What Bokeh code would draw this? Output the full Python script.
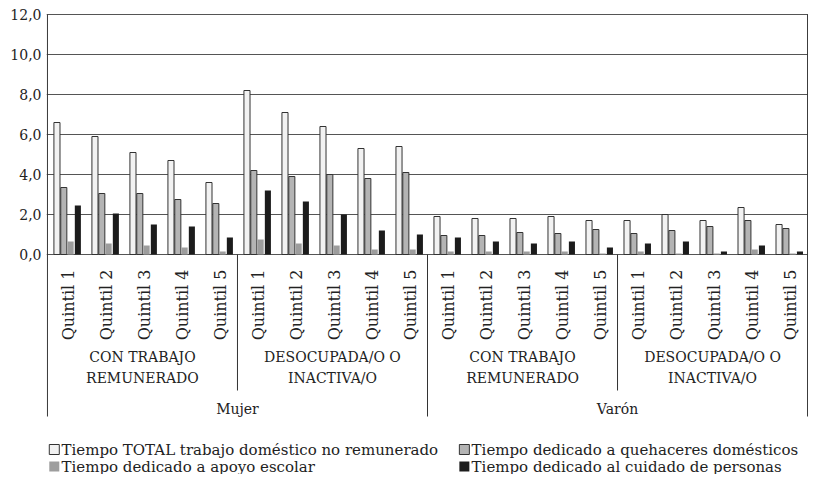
import math
from bokeh.plotting import figure
from bokeh.models import FactorRange, Range1d, FixedTicker, ColumnDataSource
from bokeh.transform import dodge
from bokeh.core.properties import value
from bokeh.embed import file_html
from bokeh.resources import INLINE

# ---------------- data ----------------
sexos = ["Mujer", "Varón"]
condiciones = ["CON TRABAJO\nREMUNERADO", "DESOCUPADA/O O\nINACTIVA/O"]
quintiles = ["Quintil 1", "Quintil 2", "Quintil 3", "Quintil 4", "Quintil 5"]

series_labels = [
    "Tiempo TOTAL trabajo doméstico no remunerado",
    "Tiempo dedicado a quehaceres domésticos",
    "Tiempo dedicado a apoyo escolar",
    "Tiempo dedicado al cuidado de personas",
]

total = [6.6, 5.9, 5.1, 4.7, 3.6,
         8.2, 7.1, 6.4, 5.3, 5.4,
         1.9, 1.8, 1.8, 1.9, 1.7,
         1.7, 2.0, 1.7, 2.35, 1.5]
quehaceres = [3.35, 3.05, 3.05, 2.75, 2.55,
              4.2, 3.9, 4.0, 3.8, 4.1,
              0.95, 0.95, 1.1, 1.05, 1.25,
              1.05, 1.2, 1.4, 1.7, 1.3]
apoyo = [0.65, 0.55, 0.45, 0.35, 0.15,
         0.75, 0.55, 0.45, 0.25, 0.25,
         0.15, 0.15, 0.15, 0.15, 0.05,
         0.15, 0.05, 0.05, 0.25, 0.05]
cuidado = [2.45, 2.05, 1.5, 1.4, 0.85,
           3.2, 2.65, 2.0, 1.2, 1.0,
           0.85, 0.65, 0.55, 0.65, 0.35,
           0.55, 0.65, 0.15, 0.45, 0.15]

yticks = [0, 2, 4, 6, 8, 10, 12]

# ---------------- build ----------------
factors = [(s, c, q) for s in sexos for c in condiciones for q in quintiles]
src = ColumnDataSource(dict(x=factors, total=total, quehaceres=quehaceres,
                            apoyo=apoyo, cuidado=cuidado,
                            q=[f[2] for f in factors]))

x_range = FactorRange(*factors, factor_padding=0, subgroup_padding=0,
                      group_padding=0, range_padding=0.025,
                      range_padding_units="absolute")

p = figure(width=808, height=474, x_range=x_range,
           y_range=Range1d(-11.0, 12.05),
           output_backend="svg", toolbar_location=None,
           x_axis_location=None,
           min_border_left=46, min_border_right=0,
           min_border_top=13, min_border_bottom=0)
p.outline_line_color = None
p.background_fill_color = "white"
p.border_fill_color = "white"

FONT = value("DejaVu Serif")
TXT = "#222222"
LINE = "#333333"

# axis
p.yaxis.ticker = FixedTicker(ticks=yticks)
p.yaxis.major_label_overrides = {t: f"{t:.1f}".replace(".", ",") for t in yticks}
p.yaxis.axis_line_color = None
p.yaxis.major_tick_line_color = None
p.yaxis.minor_tick_line_color = None
p.yaxis.major_tick_out = 0
p.yaxis.major_tick_in = 0
p.yaxis.major_label_standoff = 5
p.yaxis.major_label_text_font = "DejaVu Serif"
p.yaxis.major_label_text_font_size = "14px"
p.yaxis.major_label_text_color = TXT
p.ygrid.grid_line_color = "#555555"
p.ygrid.grid_line_width = 1
p.xgrid.visible = False

# bars
W = 0.16
p.vbar(x=dodge("x", -0.25, range=p.x_range), top="total", width=W, source=src,
       fill_color="#f2f2f2", line_color=LINE, line_width=1)
p.vbar(x=dodge("x", -0.07, range=p.x_range), top="quehaceres", width=W, source=src,
       fill_color="#b4b4b4", line_color=LINE, line_width=1)
p.vbar(x=dodge("x", 0.11, range=p.x_range), top="apoyo", width=W, source=src,
       fill_color="#9d9d9d", line_color=None)
p.vbar(x=dodge("x", 0.30, range=p.x_range), top="cuidado", width=W, source=src,
       fill_color="#1c1c1c", line_color=None)

# category labels (level 3: quintiles)
p.text(x=dodge("x", 0.05, range=p.x_range), y=-0.75, text="q", source=src,
       angle=math.pi / 2, text_align="right", text_baseline="middle",
       text_font=FONT, text_font_size="16px", text_color=TXT)

# level 2: condition labels (two lines)
cond_x = [(s, c) for s in sexos for c in condiciones]
line1 = [c.split("\n")[0] for s in sexos for c in condiciones]
line2 = [c.split("\n")[1] for s in sexos for c in condiciones]
p.text(x=cond_x, y=-5.1, text=line1, text_align="center", text_baseline="middle",
       text_font=FONT, text_font_size="14px", text_color=TXT)
p.text(x=cond_x, y=-6.15, text=line2, text_align="center", text_baseline="middle",
       text_font=FONT, text_font_size="14px", text_color=TXT)

# level 1: sex labels
p.text(x=sexos, y=-7.7, text=sexos, text_align="center", text_baseline="middle",
       text_font=FONT, text_font_size="14px", text_color=TXT)

# separators
n = len(factors)
nsub = len(quintiles)
ngrp = len(condiciones) * nsub
sub_sep = [i * nsub for i in range(1, n // nsub) if (i * nsub) % ngrp != 0]
grp_sep = [i * ngrp for i in range(1, n // ngrp)]
p.segment(x0=sub_sep, y0=0, x1=sub_sep, y1=-6.8, line_color=LINE, line_width=1)
p.segment(x0=grp_sep, y0=0, x1=grp_sep, y1=-8.1, line_color=LINE, line_width=1)
p.segment(x0=[0, n], y0=12, x1=[0, n], y1=-8.1, line_color=LINE, line_width=1)

# legend (drawn manually, 2 x 2)
leg_fill = ["#f2f2f2", "#b4b4b4", "#9d9d9d", "#1c1c1c"]
leg_line = [LINE, LINE, None, None]
leg_sq_x = [0.18, 10.97, 0.18, 10.97]
leg_tx_x = [0.37, 11.16, 0.37, 11.16]
leg_y = [-9.75, -9.75, -10.6, -10.6]
for i in range(4):
    p.rect(x=[leg_sq_x[i]], y=[leg_y[i]], width=10, height=10,
           width_units="screen", height_units="screen",
           fill_color=leg_fill[i], line_color=leg_line[i], line_width=1)
p.text(x=leg_tx_x, y=leg_y, text=series_labels, text_align="left",
       text_baseline="middle", text_font=FONT, text_font_size="15px",
       text_color=TXT)

open("out.html", "w").write(file_html(p, INLINE))
